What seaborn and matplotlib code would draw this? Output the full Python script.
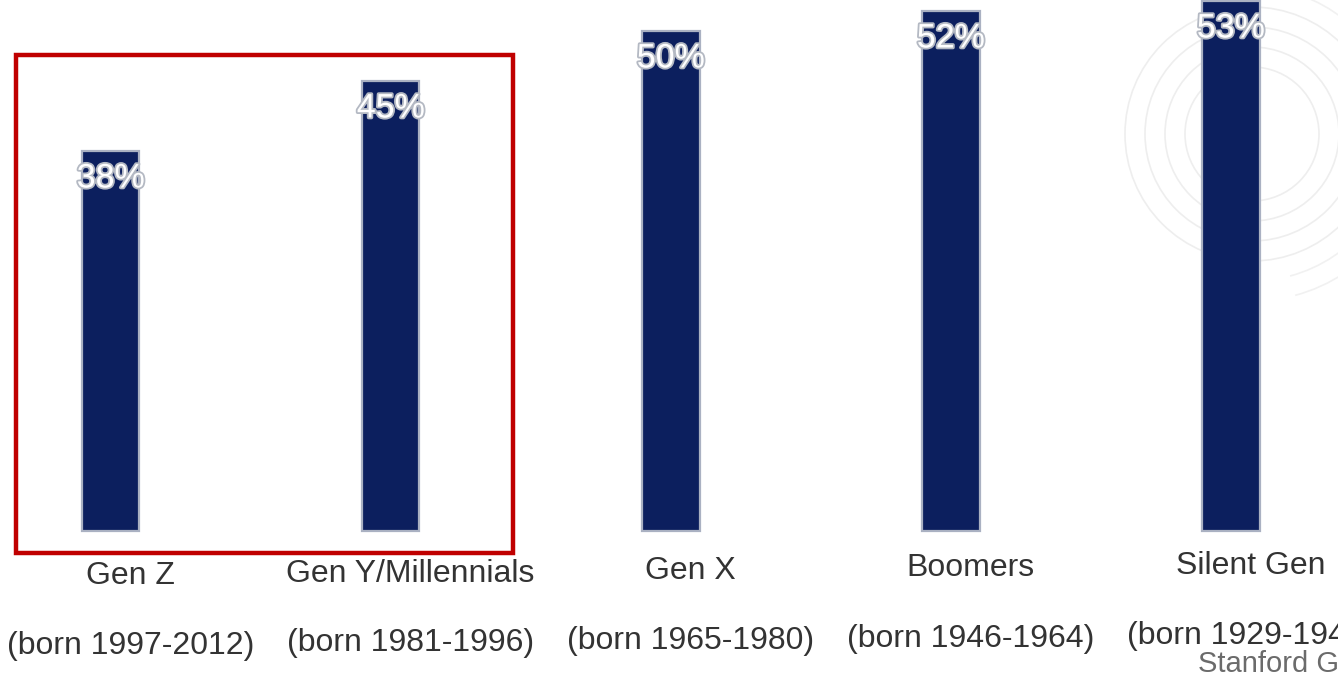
import matplotlib
matplotlib.use("Agg")
import matplotlib.pyplot as plt
import matplotlib.patheffects as pe
from matplotlib.patches import Rectangle, Circle, Arc
import seaborn as sns
import pandas as pd

# Share of each generation (percent)
generations = ["Gen Z", "Gen Y/Millennials", "Gen X", "Boomers", "Silent Gen"]
born_ranges = ["(born 1997-2012)", "(born 1981-1996)", "(born 1965-1980)",
               "(born 1946-1964)", "(born 1929-1945)"]
shares = [38, 45, 50, 52, 53]
source_note = "Stanford G"

sns.set_theme(style="white")
plt.rcParams["font.family"] = ["Liberation Sans", "DejaVu Sans"]

df = pd.DataFrame({"generation": generations, "share": shares})

fig = plt.figure(figsize=(13.38, 6.74), dpi=100)
ax = fig.add_axes([0, 0, 1, 1])
ax.patch.set_alpha(0)

# faint concentric rings in the upper right, sized in inches so they stay round
ring_center = (12.52, 5.40)
for r in (0.67, 0.87, 1.07, 1.27):
    fig.patches.append(Circle(ring_center, r, transform=fig.dpi_scale_trans,
                              fill=False, edgecolor="#eeeeee", linewidth=1.2,
                              zorder=-1))
for r in (1.47, 1.67):
    fig.patches.append(Arc(ring_center, 2 * r, 2 * r, theta1=-75, theta2=75,
                           transform=fig.dpi_scale_trans, edgecolor="#f1f1f1",
                           linewidth=1.2, zorder=-1))

sns.barplot(data=df, x="generation", y="share", ax=ax, color="#0c1f5e",
            width=0.204, saturation=1, edgecolor="#aab1c2", linewidth=1.6,
            zorder=2)

ax.set_xlim(-0.396, 4.382)
ax.set_ylim(-14.3, 53.1)
ax.axis("off")

outline = [pe.withStroke(linewidth=2.6, foreground="#b4b9c3")]
for i, v in enumerate(shares):
    ax.text(i, v - 2.8, f"{v}%", ha="center", va="center", fontsize=24.5,
            color="white", path_effects=outline, zorder=3)

for i, (g, b) in enumerate(zip(generations, born_ranges)):
    ax.text(i + 0.07, -4.5 + 0.25 * i, g, ha="center", va="center",
            fontsize=23, color="#333333", zorder=3)
    ax.text(i + 0.07, -11.5 + 0.25 * i, b, ha="center", va="center",
            fontsize=23, color="#333333", zorder=3)

ax.text(3.882, -13.3, source_note, ha="left", va="center", fontsize=21,
        color="#6b6b6b", zorder=3)

# highlight box around the two youngest generations
ax.add_patch(Rectangle((-0.339, -2.2), 1.775, 49.8, fill=False,
                       edgecolor="#c00000", linewidth=3.2, zorder=4,
                       clip_on=False))

fig.savefig("out.png", dpi=100)
